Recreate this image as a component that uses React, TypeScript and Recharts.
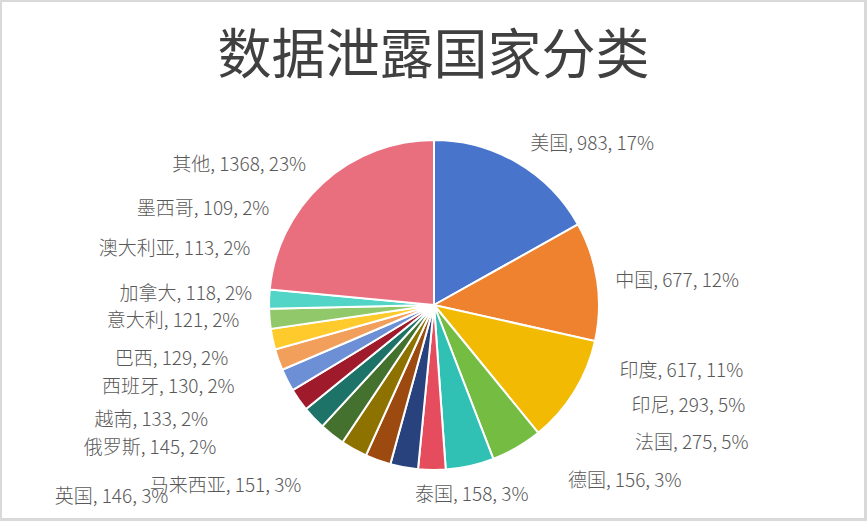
import React from 'react';
import { PieChart, Pie, Cell } from 'recharts';

const countries = ['美国', '中国', '印度', '印尼', '法国', '德国', '泰国', '英国', '马来西亚', '俄罗斯', '越南', '西班牙', '巴西', '意大利', '加拿大', '澳大利亚', '墨西哥', '其他'];
const counts = [983, 677, 617, 293, 275, 156, 158, 146, 151, 145, 133, 130, 129, 121, 118, 113, 109, 1368];
const percents = ['17%', '12%', '11%', '5%', '5%', '3%', '3%', '3%', '3%', '2%', '2%', '2%', '2%', '2%', '2%', '2%', '2%', '23%'];

const colors = ['#4874CB', '#EE822F', '#F2BA02', '#75BD42', '#30C0B4', '#E54C5E', '#27427D', '#9C4A0F', '#8E7200', '#44712E', '#1D7368', '#9F1B2C', '#6D8FD5', '#F29F5C', '#FFCA2B', '#91C86A', '#52D4C7', '#E96F7F'];

// label offsets (layout only) relative to the radial anchor point
const labelNudge: [number, number][] = [
  [68, -10], [67, -1], [96, -30], [165, -55], [219, -38], [193, -4], [70, 12], [-262, 22], [-122, 23],
  [-174, 1], [-153, -9], [-120, -23], [-104, -30], [-93, -45], [-74, -50], [-82, -73], [-53, -92], [-75, -11],
];

const data = countries.map((name, i) => ({ name, value: counts[i], pct: percents[i] }));

const RADIAN = Math.PI / 180;

const renderLabel = (props: any) => {
  const { cx, cy, midAngle, outerRadius, index } = props;
  const r = outerRadius + 13;
  const x = cx + r * Math.cos(-midAngle * RADIAN) + labelNudge[index][0];
  const y = cy + r * Math.sin(-midAngle * RADIAN) + labelNudge[index][1];
  const d = data[index];
  return (
    <text
      x={x}
      y={y}
      textAnchor="middle"
      dominantBaseline="central"
      fill="#595959"
      fontSize={19}
      fontWeight={300}
      fontFamily="'Noto Sans CJK SC', 'Noto Sans', sans-serif"
    >
      {`${d.name}, ${d.value}, ${d.pct}`}
    </text>
  );
};

export default function App() {
  return (
    <div
      style={{
        position: 'absolute',
        left: 0,
        top: 0,
        width: 867,
        height: 521,
        boxSizing: 'border-box',
        border: '3px solid #d9d9d9',
        borderTopWidth: 2,
        borderLeftWidth: 2,
        background: '#fff',
        overflow: 'hidden',
      }}
    >
      <div
        style={{
          position: 'absolute',
          left: -2,
          top: 17,
          width: 867,
          textAlign: 'center',
          fontFamily: "'Noto Sans CJK SC', sans-serif",
          fontSize: 54,
          lineHeight: '64px',
          color: '#404040',
        }}
      >
        数据泄露国家分类
      </div>
      <div style={{ position: 'absolute', left: -2, top: -2 }}>
        <PieChart width={867} height={521} margin={{ top: 0, right: 0, bottom: 0, left: 0 }}>
          <Pie
            data={data}
            dataKey="value"
            nameKey="name"
            cx={434}
            cy={305}
            outerRadius={165}
            startAngle={90}
            endAngle={-270}
            stroke="#ffffff"
            strokeWidth={2}
            label={renderLabel}
            labelLine={false}
            isAnimationActive={false}
          >
            {data.map((d, i) => (
              <Cell key={d.name} fill={colors[i]} />
            ))}
          </Pie>
        </PieChart>
      </div>
    </div>
  );
}
